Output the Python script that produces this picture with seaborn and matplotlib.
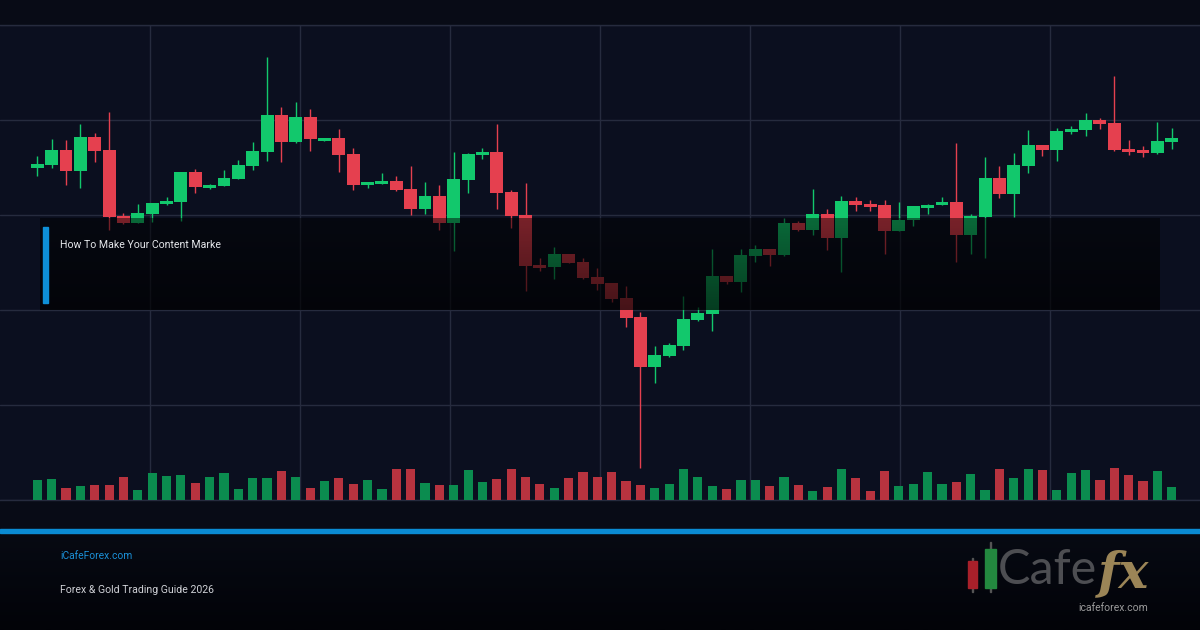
import numpy as np
import matplotlib
matplotlib.use("Agg")
import matplotlib.pyplot as plt
import pandas as pd
import seaborn as sns
from matplotlib.patches import Rectangle

# OHLC prices per session and volume
opens = [2333.2, 2333.5, 2335.0, 2332.9, 2336.3, 2335.0, 2328.4, 2327.7, 2328.6, 2329.6,
         2329.8, 2332.8, 2331.2, 2331.4, 2332.1, 2333.4, 2334.8, 2338.5, 2335.8, 2338.3,
         2335.9, 2336.2, 2334.6, 2331.5, 2331.6, 2331.9, 2331.1, 2329.1, 2330.4, 2327.7,
         2332.0, 2334.5, 2334.8, 2330.8, 2328.5, 2323.5, 2323.3, 2324.6, 2323.8, 2322.3,
         2321.7, 2320.2, 2318.3, 2313.3, 2314.4, 2315.4, 2318.0, 2318.6, 2322.4, 2321.8,
         2324.4, 2325.1, 2324.5, 2327.7, 2327.0, 2328.6, 2326.2, 2329.9, 2329.6, 2329.5,
         2326.9, 2328.0, 2329.2, 2329.5, 2329.8, 2326.5, 2328.3, 2332.2, 2330.6, 2333.4,
         2335.5, 2335.0, 2336.8, 2337.0, 2338.0, 2337.7, 2335.1, 2335.0, 2334.7, 2335.8]
highs = [2334.4, 2336.1, 2336.0, 2337.6, 2336.7, 2338.8, 2328.7, 2329.6, 2329.7, 2330.3,
         2332.8, 2333.1, 2331.6, 2333.0, 2334.0, 2335.8, 2344.3, 2339.3, 2339.8, 2339.1,
         2336.2, 2337.1, 2335.2, 2331.8, 2332.7, 2332.4, 2333.4, 2331.8, 2331.5, 2334.8,
         2334.7, 2335.2, 2337.6, 2331.0, 2331.7, 2324.2, 2325.3, 2324.6, 2324.2, 2323.2,
         2321.7, 2321.4, 2318.8, 2315.4, 2315.7, 2320.4, 2319.3, 2325.1, 2322.4, 2325.1,
         2325.5, 2325.1, 2328.2, 2327.9, 2331.1, 2329.1, 2330.4, 2330.3, 2330.0, 2330.0,
         2329.8, 2329.4, 2329.6, 2330.3, 2335.7, 2328.6, 2334.3, 2333.4, 2334.7, 2337.0,
         2335.5, 2337.2, 2337.4, 2338.7, 2338.2, 2342.4, 2336.0, 2335.4, 2337.8, 2337.2]
lows = [2332.4, 2333.2, 2331.5, 2331.2, 2333.8, 2327.0, 2327.6, 2327.7, 2327.8, 2329.5,
        2327.9, 2330.7, 2331.1, 2331.4, 2332.1, 2333.0, 2333.9, 2333.8, 2335.7, 2334.9,
        2335.9, 2332.8, 2331.0, 2331.2, 2331.6, 2330.9, 2328.5, 2328.6, 2327.0, 2324.9,
        2330.7, 2334.1, 2329.1, 2327.2, 2320.9, 2322.9, 2322.1, 2323.7, 2322.1, 2321.0,
        2319.8, 2317.3, 2303.2, 2311.7, 2314.3, 2315.0, 2317.9, 2316.9, 2321.6, 2320.8,
        2323.8, 2323.4, 2324.4, 2326.9, 2326.5, 2325.0, 2322.8, 2328.9, 2328.9, 2324.6,
        2326.9, 2327.4, 2328.6, 2329.5, 2323.8, 2324.6, 2324.2, 2330.2, 2328.3, 2332.7,
        2334.4, 2333.9, 2336.6, 2336.4, 2337.1, 2334.9, 2334.5, 2334.3, 2334.6, 2335.1]
closes = [2333.6, 2335.0, 2332.9, 2336.3, 2334.9, 2328.3, 2327.7, 2328.7, 2329.7, 2329.9,
          2332.8, 2331.3, 2331.5, 2332.2, 2333.5, 2334.9, 2338.5, 2335.8, 2338.3, 2336.1,
          2336.2, 2334.5, 2331.5, 2331.8, 2331.9, 2331.0, 2329.1, 2330.4, 2327.7, 2332.1,
          2334.6, 2334.8, 2330.7, 2328.4, 2323.4, 2323.2, 2324.6, 2323.7, 2322.2, 2321.6,
          2320.1, 2318.2, 2313.3, 2314.5, 2315.5, 2318.1, 2318.7, 2322.4, 2321.8, 2324.5,
          2325.1, 2324.5, 2327.7, 2327.0, 2328.6, 2326.2, 2329.9, 2329.5, 2329.3, 2326.9,
          2328.0, 2329.4, 2329.5, 2329.8, 2326.5, 2328.4, 2332.2, 2330.6, 2333.5, 2335.5,
          2335.0, 2336.9, 2337.1, 2338.0, 2337.6, 2335.0, 2334.8, 2334.7, 2335.9, 2336.2]
volume = [200, 210, 120, 140, 150, 150, 230, 100, 273, 243,
          250, 170, 230, 270, 110, 220, 220, 290, 230, 120,
          190, 220, 160, 200, 110, 310, 310, 170, 150, 150,
          300, 180, 210, 310, 230, 160, 120, 220, 280, 230,
          280, 190, 150, 120, 160, 310, 230, 140, 110, 200,
          200, 140, 230, 150, 90, 130, 310, 220, 90, 290,
          140, 160, 280, 160, 180, 260, 100, 310, 220, 310,
          300, 100, 270, 300, 200, 320, 250, 190, 290, 130]

headline = "How To Make Your Content Marke"
site_label = "iCafeForex.com"
footer_label = "Forex & Gold Trading Guide 2026"

UP, DOWN = "#12c86c", "#e5404f"
VOL_UP, VOL_DOWN = "#0b8c4f", "#b8333f"
GRID = "#262b3e"

df = pd.DataFrame({"open": opens, "high": highs, "low": lows, "close": closes, "volume": volume})
df["idx"] = np.arange(len(df))
df["dir"] = np.where(df["close"] >= df["open"], "up", "down")

sns.set_style("dark")
plt.rcParams["font.family"] = ["Roboto", "DejaVu Sans"]

fig = plt.figure(figsize=(12, 6.3), dpi=100, facecolor="#080b16")
ax = fig.add_axes([0, 130 / 630, 1, 475 / 630])
ax.set_facecolor("#0b0f1f")

# grid (no labels)
x0, step = 37.3, 14.36
ax.set_xticks([(px - x0) / step for px in range(150, 1200, 150)])
ax.set_yticks(np.arange(2300, 2348, 9.5))
ax.grid(True, color=GRID, linewidth=1.0)
ax.tick_params(length=0, labelbottom=False, labelleft=False)
for s in ["left", "right"]:
    ax.spines[s].set_visible(False)
for s in ["top", "bottom"]:
    ax.spines[s].set_color(GRID)
    ax.spines[s].set_linewidth(1.0)
ax.set_axisbelow(True)

# candles
cols = df["dir"].map({"up": UP, "down": DOWN})
ax.vlines(df["idx"], df["low"], df["high"], colors=cols, linewidth=1.0, zorder=2)
ax.bar(df["idx"], (df["close"] - df["open"]).abs(), bottom=df[["open", "close"]].min(axis=1),
       width=0.9, color=cols, linewidth=0, zorder=3)

# volume on a twin axis
ax2 = ax.twinx()
sns.barplot(data=df, x="idx", y="volume", hue="dir", palette={"up": VOL_UP, "down": VOL_DOWN},
            dodge=False, width=0.64, native_scale=True, errorbar=None, legend=False,
            saturation=1, linewidth=0, ax=ax2)
ax2.set_ylim(0, 4750)
ax2.set_axis_off()
ax.set_ylim(2300, 2347.5)
ax.set_xlim((0 - x0) / step, (1200 - x0) / step)
ax.set_xlabel("")
ax.set_ylabel("")

# dark overlay panel with headline
ov = fig.add_axes([40 / 1200, 320 / 630, 1120 / 1200, 92 / 630], zorder=5)
alpha = np.linspace(0.48, 0.7, 64)[:, None] * np.ones((1, 8))
rgba = np.zeros((64, 8, 4))
rgba[..., 3] = alpha
ov.imshow(rgba, aspect="auto", extent=[0, 1, 0, 1])
ov.set_axis_off()
fig.add_artist(Rectangle((43 / 1200, 327 / 630), 5 / 1200, 76 / 630, color="#0e8fd6",
                         transform=fig.transFigure, zorder=6))
fig.text(60 / 1200, 1 - 245.5 / 630, headline, color="#e4e6ea", fontsize=7.6, va="center", zorder=7)

# footer
fa = fig.add_axes([0, 0, 1, 97 / 630], zorder=1)
grad = np.linspace(0, 1, 64)[:, None]
fa.imshow(grad, aspect="auto", cmap=matplotlib.colors.LinearSegmentedColormap.from_list(
    "f", ["#070a13", "#020308"]), extent=[0, 1, 0, 1])
fa.set_axis_off()
fig.add_artist(Rectangle((0, 97 / 630), 1, 4 / 630, color="#0a8bd3",
                         transform=fig.transFigure, zorder=6))
fig.text(60 / 1200, 1 - 556 / 630, site_label, color="#1b90d8", fontsize=7.4, va="center", zorder=7)
fig.text(60 / 1200, 1 - 590 / 630, footer_label, color="#cfd1d6", fontsize=7.6, va="center", zorder=7)

# logo
for (lx, ly, lw, lh, c) in [(968, 561, 9, 27, "#a8202a"), (985, 549, 11, 39, "#23883f")]:
    fig.add_artist(Rectangle((lx / 1200, 1 - (ly + lh) / 630), lw / 1200, lh / 630, color=c,
                             transform=fig.transFigure, zorder=7))
fig.add_artist(Rectangle((972 / 1200, 1 - 592 / 630), 1 / 1200, 34 / 630, color="#555555",
                         transform=fig.transFigure, zorder=6))
fig.add_artist(Rectangle((990 / 1200, 1 - 592 / 630), 1 / 1200, 50 / 630, color="#555555",
                         transform=fig.transFigure, zorder=6))
fig.text(998 / 1200, 1 - 570 / 630, "Cafe", color="#4d4e52", fontsize=35, va="center",
         family=["Lato", "DejaVu Sans"], fontweight="normal", zorder=7)
fig.text(1098 / 1200, 1 - 574 / 630, "fx", color="#9b8557", fontsize=36, va="center",
         family=["DejaVu Serif"], fontweight="bold", fontstyle="italic", zorder=7)
fig.text(1113 / 1200, 1 - 608 / 630, "icafeforex.com", color="#9a9a9a", fontsize=7.5,
         ha="center", va="center", zorder=8)

fig.savefig("out.png", dpi=100, facecolor=fig.get_facecolor())
